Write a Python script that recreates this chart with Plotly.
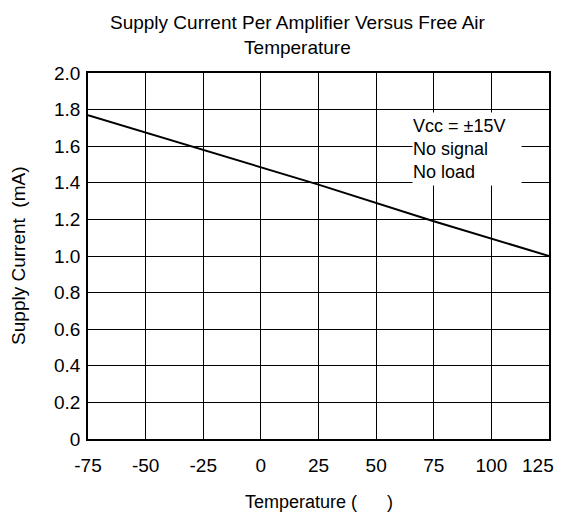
import plotly.graph_objects as go

temps = [-75, -25, 25, 75, 125]
current_ma = [1.77, 1.58, 1.39, 1.19, 1.0]

x_ticks = [-75, -50, -25, 0, 25, 50, 75, 100, 125]
x_tick_labels = ["-75", "-50", "-25", "0", "25", "50", "75", "100", "125"]
y_ticks = [0, 0.2, 0.4, 0.6, 0.8, 1.0, 1.2, 1.4, 1.6, 1.8, 2.0]
y_tick_labels = ["0", "0.2", "0.4", "0.6", "0.8", "1.0", "1.2", "1.4", "1.6", "1.8", "2.0"]

_FONT = "Liberation Sans"
# the page body has an 8px margin, so the figure is kept inside the window
_W, _H = 546, 508

fig = go.Figure(
    data=[
        go.Scatter(
            x=temps,
            y=current_ma,
            mode="lines",
            line={"color": "black", "width": 2},
            showlegend=False,
            hoverinfo="skip",
        )
    ]
)

# condition note, white box over the grid
fig.add_annotation(
    x=0.703, y=0.893, xref="paper", yref="paper",
    xanchor="left", yanchor="top", align="left",
    width=108, height=72, borderpad=0,
    text="Vcc = ±15V<br>No signal<br>No load",
    showarrow=False,
    bgcolor="white",
    font={"family": _FONT, "size": 18, "color": "black"},
)

# title and axis titles as annotations
fig.add_annotation(
    x=0.456, y=1.105, xref="paper", yref="paper",
    xanchor="center", yanchor="middle",
    text="Supply Current Per Amplifier Versus Free Air<br>Temperature",
    showarrow=False,
    font={"family": _FONT, "size": 19, "color": "black"},
)
fig.add_annotation(
    x=0.5, y=-0.172, xref="paper", yref="paper",
    xanchor="center", yanchor="middle",
    text="Temperature (      )", showarrow=False,
    font={"family": _FONT, "size": 18, "color": "black"},
)
fig.add_annotation(
    x=-0.152, y=0.5, xref="paper", yref="paper",
    xanchor="center", yanchor="middle", textangle=-90,
    text="Supply Current  (mA)", showarrow=False,
    font={"family": _FONT, "size": 19, "color": "black"},
)

# the last x label would be clipped at the page edge, so it is pulled in a little
fig.add_annotation(
    x=x_ticks[-1], y=-0.072, xref="x", yref="paper",
    xanchor="right", yanchor="middle", xshift=7,
    text=x_tick_labels[-1], showarrow=False,
    font={"family": _FONT, "size": 19, "color": "black"},
)

axis_style = dict(
    showline=True, linecolor="black", linewidth=1.5, mirror=True,
    showgrid=True, gridcolor="black", gridwidth=1,
    zeroline=False, ticks="outside", tickcolor="rgba(0,0,0,0)", color="black",
    tickfont={"family": _FONT, "size": 19, "color": "black"},
    ticklabeloverflow="allow", automargin=False, fixedrange=True,
)

fig.update_layout(
    width=_W, height=_H,
    margin={"l": 80, "r": 5, "t": 65, "b": 77},
    paper_bgcolor="white", plot_bgcolor="white",
    font={"family": _FONT, "color": "black"},
    xaxis=dict(
        axis_style, range=[-75, 125], tickvals=x_ticks,
        ticktext=x_tick_labels[:-1] + [""], ticklen=8,
    ),
    yaxis=dict(axis_style, range=[0, 2.0], tickvals=y_ticks, ticktext=y_tick_labels, ticklen=2),
)

fig.write_html("out.html")
